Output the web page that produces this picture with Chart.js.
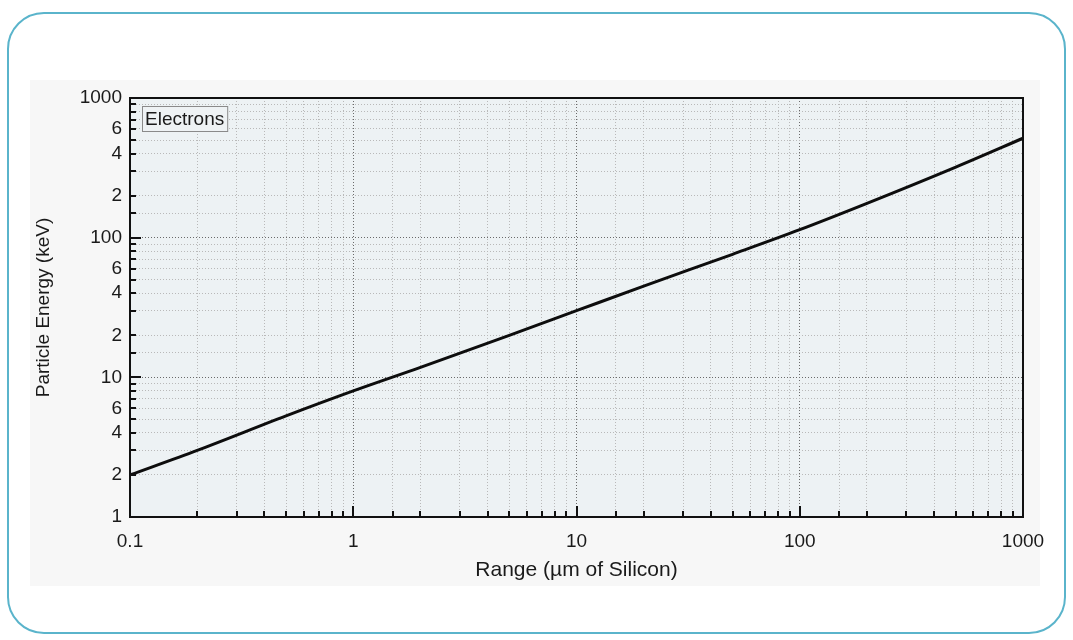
<!DOCTYPE html>
<html>
<head>
<meta charset="utf-8">
<script src="https://cdn.jsdelivr.net/npm/chart.js@4"></script>
<style>
  html, body { margin: 0; padding: 0; background: #fff; }
  #wrap { width: 1073px; height: 640px; }
</style>
</head>
<body>
<div id="wrap"><canvas id="range-chart" width="1073" height="640"></canvas></div>
<script>
// values
const rangeUm   = [0.1, 0.2, 0.5, 1, 2, 5, 10, 20, 50, 100, 200, 500, 1000];
const energyKeV = [2.0, 3.0, 5.3, 8.0, 11.8, 20.0, 30, 45, 76, 114, 176, 320, 515];

const xLabelValues = [0.1, 1, 10, 100, 1000];
const yLabelValues = [1, 2, 4, 6, 10, 20, 40, 60, 100, 200, 400, 600, 1000];

const FONT = '"Liberation Sans", Arial, sans-serif';

const isDecade = v => Math.abs(Math.log10(v) - Math.round(Math.log10(v))) < 1e-6;
const inList = (list, v) => list.some(l => Math.abs(l - v) / l < 1e-6);

// decades get the full number, in-between ticks just the leading digit
function fmt(v) {
  if (isDecade(v)) return v < 1 ? v.toFixed(1) : String(Math.round(v));
  return String(Math.round(v / Math.pow(10, Math.floor(Math.log10(v)))));
}

// frame, backgrounds, inner ticks, legend box
const decorPlugin = {
  id: 'decor',
  beforeDraw(chart) {
    const ctx = chart.ctx, a = chart.chartArea;
    ctx.save();
    ctx.fillStyle = '#fff';
    ctx.fillRect(0, 0, chart.width, chart.height);
    // rounded teal frame
    ctx.strokeStyle = '#5ab4cb';
    ctx.lineWidth = 2;
    ctx.beginPath();
    ctx.roundRect(8, 13, 1057, 620, 36);
    ctx.stroke();
    // pale grey panel
    ctx.fillStyle = '#f7f7f7';
    ctx.fillRect(30, 80, 1010, 506);
    // plot area
    ctx.fillStyle = '#edf2f4';
    ctx.fillRect(a.left, a.top, a.right - a.left, a.bottom - a.top);
    ctx.restore();
  },
  afterDraw(chart) {
    const ctx = chart.ctx, a = chart.chartArea;
    const xs = chart.scales.x, ys = chart.scales.y;
    ctx.save();
    ctx.strokeStyle = '#111';
    ctx.lineWidth = 2;
    // inner ticks on the left and bottom axes
    ctx.beginPath();
    ys.ticks.forEach(t => {
      const y = Math.round(ys.getPixelForValue(t.value));
      const len = isDecade(t.value) ? 11 : 6;
      ctx.moveTo(a.left, y);
      ctx.lineTo(a.left + len, y);
    });
    xs.ticks.forEach(t => {
      const x = Math.round(xs.getPixelForValue(t.value));
      const len = isDecade(t.value) ? 11 : 6;
      ctx.moveTo(x, a.bottom);
      ctx.lineTo(x, a.bottom - len);
    });
    ctx.stroke();
    // axis box
    ctx.strokeRect(a.left, a.top, a.right - a.left, a.bottom - a.top);
    // legend
    const label = chart.data.datasets[0].label;
    ctx.font = '19px ' + FONT;
    const w = ctx.measureText(label).width + 6;
    ctx.fillStyle = '#eef2f4';
    ctx.fillRect(a.left + 12, a.top + 8, w, 25);
    ctx.strokeStyle = '#8a8a8a';
    ctx.lineWidth = 1;
    ctx.strokeRect(a.left + 12.5, a.top + 8.5, w, 25);
    ctx.fillStyle = '#1a1a1a';
    ctx.textBaseline = 'middle';
    ctx.fillText(label, a.left + 15, a.top + 22);
    ctx.restore();
  }
};

const gridColor = ctx => (ctx.tick && isDecade(ctx.tick.value)) ? '#6a6a6a' : '#b9b9b9';

const chart = new Chart(document.getElementById('range-chart'), {
  type: 'line',
  data: {
    datasets: [{
      label: 'Electrons',
      data: rangeUm.map((x, i) => ({ x: x, y: energyKeV[i] })),
      borderColor: '#0d0d0d',
      borderWidth: 3,
      pointRadius: 0,
      cubicInterpolationMode: 'monotone'
    }]
  },
  options: {
    responsive: false,
    animation: false,
    layout: { padding: { top: 98, right: 50, left: 0, bottom: 0 } },
    plugins: { legend: { display: false }, tooltip: { enabled: false } },
    scales: {
      x: {
        type: 'logarithmic', min: 0.1, max: 1000,
        afterFit: s => { s.height = 123; },
        grid: { color: gridColor, lineWidth: 1, drawTicks: false },
        border: { display: false, dash: [1, 2] },
        ticks: {
          autoSkip: false, maxRotation: 0, padding: 13,
          color: '#1a1a1a', font: { family: FONT, size: 19 },
          callback: v => inList(xLabelValues, v) ? fmt(v) : ''
        },
        title: {
          display: true, text: 'Range (µm of Silicon)', color: '#1a1a1a',
          font: { family: FONT, size: 21 }, padding: { top: 0, bottom: 57 }
        }
      },
      y: {
        type: 'logarithmic', min: 1, max: 1000,
        afterFit: s => { s.width = 130; },
        grid: { color: gridColor, lineWidth: 1, drawTicks: false },
        border: { display: false, dash: [1, 2] },
        ticks: {
          autoSkip: false, padding: 8,
          color: '#1a1a1a', font: { family: FONT, size: 19 },
          callback: v => inList(yLabelValues, v) ? fmt(v) : ''
        },
        title: {
          display: true, text: 'Particle Energy (keV)', color: '#1a1a1a',
          font: { family: FONT, size: 19 }, padding: { top: 32, bottom: 0 }
        }
      }
    }
  },
  plugins: [decorPlugin]
});
</script>
</body>
</html>
